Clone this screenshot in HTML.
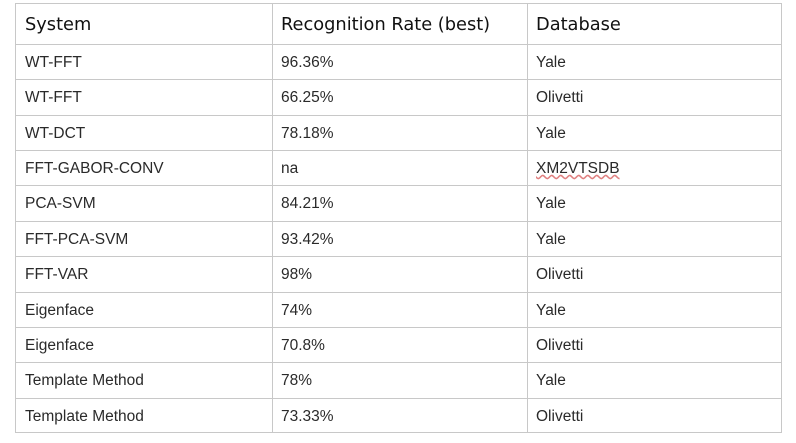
<!DOCTYPE html>
<html><head><meta charset="utf-8"><style>
html,body{margin:0;padding:0;background:#fff;width:796px;height:443px;overflow:hidden}
.t{position:absolute;left:15px;top:3px;width:767px;height:430px;border:1px solid #c8c8c8;box-sizing:border-box}
.h{position:absolute;left:15px;height:1px;width:767px;background:#c8c8c8}
.v{position:absolute;top:3px;height:430px;width:1px;background:#c8c8c8}
.c{position:absolute;font-family:"Liberation Sans",sans-serif;font-size:15.5px;color:#2a2a2a;white-space:nowrap;line-height:18px}
.hd{font-family:"DejaVu Sans",sans-serif;font-size:17.8px;color:#111;line-height:20px}
</style></head><body>
<div class="t"></div>
<div class="v" style="left:272px"></div>
<div class="v" style="left:527px"></div>
<div id="g"></div>
<script>
const systems=["WT-FFT","WT-FFT","WT-DCT","FFT-GABOR-CONV","PCA-SVM","FFT-PCA-SVM","FFT-VAR","Eigenface","Eigenface","Template Method","Template Method"];
const rates=["96.36%","66.25%","78.18%","na","84.21%","93.42%","98%","74%","70.8%","78%","73.33%"];
const dbs=["Yale","Olivetti","Yale","XM2VTSDB","Yale","Yale","Olivetti","Yale","Olivetti","Yale","Olivetti"];
const g=document.getElementById('g');
const cols=[25,281,536];
const heads=["System","Recognition Rate (best)","Database"];
heads.forEach((t,i)=>{const d=document.createElement('div');d.className='c hd';d.style.left=cols[i]+'px';d.style.top='15px';d.textContent=t;


g.appendChild(d);});
const rowH=35.36;
systems.forEach((s,r)=>{const y=44+r*rowH;
const ln=document.createElement('div');ln.className='h';ln.style.top=Math.round(y)+'px';


g.appendChild(ln);
[s,rates[r],dbs[r]].forEach((t,i)=>{const d=document.createElement('div');d.className='c';d.style.left=cols[i]+'px';d.style.top=Math.round(y+10)+'px';d.textContent=t;
if(t==='XM2VTSDB'){d.style.textDecoration='underline wavy #e08080';}


g.appendChild(d);});});
</script>
</body></html>
